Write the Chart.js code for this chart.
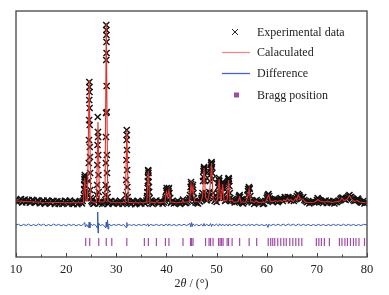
<!DOCTYPE html>
<html><head><meta charset="utf-8">
<script src="https://cdn.jsdelivr.net/npm/chart.js@4.4.0/dist/chart.umd.min.js"></script>
<style>html,body{margin:0;padding:0;background:#fff;}canvas{display:block;}</style>
</head><body>
<canvas id="c" width="389" height="295"></canvas>
<script>
// ---- data (2θ in degrees, intensity in arbitrary units) ----
const xTicks = [10, 20, 30, 40, 50, 60, 70, 80];
const seriesLabels = ["Experimental data", "Calaculated", "Difference", "Bragg position"];

const experimental = [
 [10.0,575],[10.5,555],[11.0,580],[11.5,560],[12.0,548],[12.5,570],[13.0,552],[13.5,565],[14.0,545],[14.5,560],
 [15.0,540],[15.5,565],[16.0,548],[16.5,555],[17.0,538],[17.5,560],[18.0,545],[18.5,532],[19.0,555],[19.5,540],
 [20.0,560],[20.5,535],[21.0,548],[21.5,530],[22.0,552],[22.5,540],[23.0,548],[23.3,560],
 [23.5,590],[23.55,620],[23.6,680],[23.62,720],[23.66,780],[23.68,800],[23.72,820],[23.75,760],[23.78,720],[23.82,660],[23.85,640],[23.95,590],
 [24.4,620],[24.48,760],[24.52,940],[24.56,1170],[24.58,1370],[24.6,1570],[24.62,1750],[24.64,1700],[24.66,1650],
 [24.68,1490],[24.7,1320],[24.72,1100],[24.75,1000],[24.78,840],[24.82,670],[24.9,590],
 [25.2,548],[25.6,535],[26.0,555],
 [26.12,620],[26.18,720],[26.22,920],[26.26,1120],[26.3,1400],[26.34,1250],[26.37,1200],[26.4,1020],[26.44,820],[26.5,650],
 [26.8,548],[27.2,530],[27.6,552],
 [27.82,620],[27.88,720],[27.92,940],[27.95,1200],[27.97,1440],[27.99,1970],[28.0,2320],[28.02,2270],[28.03,2220],
 [28.05,2150],[28.06,2040],[28.08,1710],[28.1,1450],[28.12,1020],[28.15,840],[28.2,680],[28.28,600],
 [28.5,545],[29.0,560],[29.5,538],[30.0,550],[30.5,532],[31.0,548],[31.5,540],
 [31.92,620],[31.98,770],[32.02,970],[32.06,1170],[32.08,1270],[32.1,1220],[32.13,1070],[32.16,870],[32.2,700],[32.28,600],
 [32.6,545],[33.0,530],[33.5,552],[34.0,538],[34.5,548],[35.0,535],[35.5,555],
 [36.1,590],[36.15,610],[36.2,650],[36.25,690],[36.3,760],[36.32,800],[36.36,870],[36.39,860],[36.42,840],[36.46,750],[36.5,700],[36.55,650],[36.65,590],
 [37.0,540],[37.5,548],[38.0,565],[38.5,538],[39.0,550],[39.5,545],
 [39.8,580],[39.85,600],[39.95,660],[40.05,690],[40.1,670],[40.15,640],[40.3,620],[40.42,660],[40.45,680],[40.5,690],[40.6,640],[40.75,590],
 [41.0,552],[41.5,535],[42.0,548],[42.5,540],[43.0,550],[43.3,575],[43.7,540],[44.2,552],
 [44.6,590],[44.7,620],[44.82,700],[44.9,750],[44.95,730],[45.0,700],[45.05,680],[45.1,660],[45.2,700],[45.3,720],[45.4,640],[45.5,590],
 [45.8,545],[46.3,535],[46.7,555],
 [47.0,590],[47.1,610],[47.2,640],[47.3,760],[47.35,800],[47.4,860],[47.45,880],[47.5,900],[47.55,890],[47.6,870],[47.65,820],[47.7,760],[47.85,640],
 [48.0,565],[48.3,590],
 [48.55,650],[48.65,760],[48.7,820],[48.8,850],[48.85,880],[48.9,920],[48.95,940],[49.0,950],[49.05,930],[49.08,900],[49.15,840],[49.2,780],[49.35,640],
 [49.6,560],[50.0,550],
 [50.25,640],[50.35,700],[50.4,740],[50.45,770],[50.5,790],[50.55,760],[50.6,720],[50.75,640],
 [50.95,650],[51.05,690],[51.1,720],[51.15,740],[51.2,750],[51.25,730],[51.3,700],[51.45,620],
 [51.7,560],[52.0,575],
 [52.15,650],[52.25,720],[52.3,760],[52.35,780],[52.4,790],[52.45,780],[52.5,760],[52.55,710],[52.65,640],
 [52.9,560],[53.2,580],[53.6,545],[54.0,550],
 [54.35,580],[54.45,600],[54.5,610],[54.6,620],[54.7,600],[54.85,570],
 [55.1,540],[55.5,550],[55.9,560],
 [56.15,620],[56.25,660],[56.3,680],[56.45,700],[56.55,690],[56.6,680],[56.75,610],
 [57.0,545],[57.5,530],[58.0,570],[58.5,540],[59.0,548],[59.5,535],
 [60.0,590],[60.1,605],[60.2,620],[60.35,630],[60.5,610],[60.7,580],
 [61.0,560],[61.4,575],[61.8,560],[62.2,548],[62.6,570],[63.0,575],[63.4,580],[63.8,590],[64.2,600],[64.6,585],
 [65.0,570],[65.4,560],[65.8,590],[66.0,610],[66.2,630],[66.4,620],[66.7,600],[67.1,590],[67.5,570],[68.0,548],
 [68.5,535],[69.0,550],[69.5,545],[70.0,570],[70.3,580],[70.6,565],[71.0,550],[71.5,560],[72.0,540],[72.5,560],
 [73.0,545],[73.5,535],[74.0,550],[74.5,565],[74.9,590],[75.1,595],[75.5,575],[76.0,585],[76.3,610],[76.5,620],
 [76.7,600],[77.0,585],[77.5,560],[78.0,570],[78.3,575],[78.7,550],[79.0,545],[79.5,535],[80.0,548],
 // intermediate scan points along the background
 [10.25,548],[10.75,570],[11.25,545],[11.75,575],[12.25,560],[12.75,542],[13.25,572],[13.75,548],[14.25,568],[14.75,538],
 [15.25,558],[15.75,532],[16.25,565],[16.75,540],[17.25,562],[17.75,530],[18.25,558],[18.75,548],[19.25,530],[19.75,562],
 [20.25,545],[20.75,565],[21.25,532],[21.75,558],[22.25,528],[22.75,560],[23.15,535],
 [25.05,560],[25.4,532],[25.8,560],[26.65,535],[27.0,558],[27.4,545],[28.4,530],[28.75,555],[29.25,535],[29.75,560],
 [30.25,540],[30.75,562],[31.25,530],[31.75,558],[32.45,560],[32.8,540],[33.25,560],[33.75,528],[34.25,562],[34.75,540],
 [35.25,558],[35.75,532],[36.0,565],[36.8,560],[37.25,530],[37.75,555],[38.25,545],[38.75,560],[39.25,532],[39.7,562],
 [40.9,540],[41.25,560],[41.75,545],[42.25,562],[42.75,530],[43.5,555],[43.95,540],[44.45,565],[45.65,560],[46.05,540],
 [46.5,560],[46.95,575],[47.95,600],[48.15,575],[48.4,610],[49.45,590],[49.8,575],[50.1,590],[50.85,600],[51.55,590],
 [51.85,570],[52.75,590],[53.0,570],[53.4,560],[53.8,560],[54.2,565],[55.0,560],[55.3,535],[55.7,565],[56.0,580],
 [56.9,565],[57.25,560],[57.75,545],[58.25,555],[58.75,560],[59.25,530],[59.75,560],[60.85,570],[61.2,550],[61.6,585],
 [62.0,575],[62.4,560],[62.8,590],[63.2,560],[63.6,600],[64.0,580],[64.4,595],[64.8,565],[65.2,585],[65.6,575],
 [66.55,615],[66.9,580],[67.3,600],[67.75,560],[68.25,555],[68.75,545],[69.25,560],[69.75,550],[70.15,590],[70.45,570],
 [70.8,555],[71.25,540],[71.75,565],[72.25,550],[72.75,545],[73.25,560],[73.75,550],[74.25,560],[74.7,580],[75.3,585],
 [75.75,570],[76.15,595],[76.85,600],[77.25,570],[77.75,565],[78.15,585],[78.5,560],[78.85,545],[79.25,560],[79.75,545]
];

const calculated = [
 [10.0,560],[12.0,555],[15.0,548],[18.0,545],[20.0,543],[23.2,542],
 [23.45,548],[23.7,790],[23.95,560],[24.25,560],[24.6,1770],[24.9,560],
 [25.5,545],[26.05,550],[26.35,1350],[26.65,552],[27.4,548],[27.75,560],[28.0,2340],[28.3,560],
 [29.0,545],[31.0,542],[31.8,548],[32.1,1270],[32.4,548],[33.5,542],[35.5,542],
 [36.1,550],[36.4,860],[36.7,550],[37.8,542],[38.1,560],[38.4,542],
 [39.7,550],[40.0,650],[40.25,600],[40.5,670],[40.8,550],[42.0,542],[43.1,545],[43.3,570],[43.5,545],
 [44.6,555],[44.9,730],[45.1,650],[45.3,710],[45.6,555],[46.8,548],
 [47.2,600],[47.5,890],[47.8,600],[48.2,560],[48.5,620],[48.7,700],[49.0,940],[49.3,580],[49.8,550],
 [50.2,580],[50.5,780],[50.8,570],[50.95,580],[51.2,730],[51.5,560],[52.1,570],[52.4,770],[52.7,560],
 [53.1,570],[53.5,545],[54.3,555],[54.6,600],[54.9,548],[55.8,548],[56.2,600],[56.5,680],[56.8,560],
 [57.5,545],[58.0,560],[58.3,545],[59.8,550],[60.1,590],[60.4,620],[60.7,560],
 [61.3,555],[61.7,565],[62.1,555],[62.8,565],[63.1,552],[63.4,570],[63.8,560],[64.1,585],[64.5,565],[64.8,575],
 [65.3,555],[65.8,590],[66.0,575],[66.3,620],[66.7,580],[67.2,580],[67.6,555],[68.0,545],
 [69.5,548],[69.9,560],[70.2,575],[70.6,560],[71.2,550],[72.4,555],[73.0,545],
 [74.6,560],[75.0,590],[75.4,565],[76.0,575],[76.5,615],[76.9,580],[77.5,555],[78.1,565],[78.5,550],[80.0,540]
];

const difference = [
 [10.0,0],[10.5,8],[11.0,-9],[11.5,6],[12.0,-5],[12.5,9],[13.0,-8],[13.5,5],[14.0,-7],[14.5,10],
 [15.0,-4],[15.5,8],[16.0,-9],[16.5,5],[17.0,-7],[17.5,9],[18.0,-5],[18.5,7],[19.0,-8],[19.5,4],
 [20.0,-9],[20.5,8],[21.0,-5],[21.5,7],[22.0,-8],[22.5,5],[23.0,-7],[23.5,9],[23.7,25],[23.85,-20],
 [24.1,5],[24.45,-25],[24.6,30],[24.72,-30],[24.85,15],[25.2,-5],[25.6,6],[26.0,-8],[26.2,-30],[26.3,130],
 [26.36,-80],[26.45,20],[26.8,-6],[27.2,5],[27.6,-7],[27.9,-30],[28.0,30],[28.1,-20],[28.25,50],[28.35,-40],
 [28.5,10],[29.0,-6],[29.5,5],[30.0,-4],[30.5,7],[31.0,-6],[31.5,5],[31.95,-25],[32.1,25],[32.2,-10],
 [32.6,6],[33.0,-5],[33.5,5],[34.0,-7],[34.5,6],[35.0,-5],[35.5,7],[36.0,-6],[36.3,12],[36.45,-14],
 [36.8,6],[37.5,-5],[38.0,7],[38.5,-6],[39.0,5],[39.5,-7],[40.0,9],[40.3,-8],[40.5,9],[41.0,-6],
 [41.5,5],[42.0,-7],[42.5,6],[43.0,-5],[43.5,7],[44.0,-6],[44.7,15],[44.85,-20],[45.0,25],[45.15,-15],
 [45.3,12],[45.6,-6],[46.0,6],[46.5,-8],[47.0,7],[47.3,-12],[47.5,15],[47.7,-10],[48.0,8],[48.5,-9],
 [48.8,14],[49.0,-15],[49.2,10],[49.5,-7],[50.0,8],[50.4,-10],[50.6,12],[51.0,-9],[51.2,10],[51.5,-7],
 [52.0,7],[52.3,-10],[52.5,9],[53.0,-6],[53.5,7],[54.0,-5],[54.5,8],[55.0,-6],[55.5,5],[56.0,-7],
 [56.4,9],[56.6,-7],[57.0,6],[57.5,-5],[58.0,7],[58.5,-6],[59.0,5],[59.5,-7],[60.0,6],[60.25,-25],
 [60.4,7],[60.8,-6],[61.3,7],[61.8,-5],[62.3,8],[62.8,-6],[63.3,9],[63.8,-7],[64.3,10],[64.8,-5],
 [65.3,8],[65.8,-7],[66.3,9],[66.8,-6],[67.3,7],[67.8,-5],[68.3,6],[68.8,-7],[69.3,5],[69.8,-6],
 [70.3,7],[70.8,-5],[71.3,6],[71.8,-7],[72.3,5],[72.8,-6],[73.3,7],[73.8,-5],[74.3,6],[74.8,-7],
 [75.3,8],[75.8,-6],[76.3,7],[76.8,-5],[77.3,6],[77.8,-7],[78.3,5],[78.8,-6],[79.3,7],[80.0,0]
];

const braggPositions = [
 23.9, 24.7, 26.5, 28.0, 29.1, 32.1, 35.6, 36.4, 38.0, 39.8, 40.5, 43.3, 44.8, 45.0, 45.3,
 47.8, 48.5, 48.8, 49.3, 50.4, 50.7, 51.0, 51.3, 52.1, 52.4, 53.1, 54.6, 56.5, 58.0,
 60.3, 60.8, 61.2, 61.6, 62.2, 62.8, 63.4, 63.9, 64.6, 65.2, 65.8, 66.4, 67.0,
 69.9, 70.4, 70.9, 71.5, 72.5, 74.5, 75.0, 75.6, 76.1, 76.7, 77.3, 77.8, 78.4, 79.5
];

// layout constants (display only)
const DIFF_OFFSET = 320;
const BRAGG_LEVEL = 150;

const toXY = a => a.map(p => ({x: p[0], y: p[1]}));

const serif = '"Liberation Serif", "Times New Roman", serif';

const frameAndLegend = {
  id: 'frameAndLegend',
  afterDraw(chart) {
    const ctx = chart.ctx, a = chart.chartArea, xs = chart.scales.x;
    ctx.save();
    ctx.strokeStyle = '#444'; ctx.lineWidth = 1.3;
    ctx.strokeRect(a.left, a.top, a.right - a.left, a.bottom - a.top);
    ctx.lineWidth = 1;
    for (let v = 10; v <= 80; v += 5) {
      const px = Math.round(xs.getPixelForValue(v)) + 0.5;
      const len = (v % 10 === 0) ? 4 : 2.5;
      ctx.beginPath(); ctx.moveTo(px, a.bottom); ctx.lineTo(px, a.bottom - len); ctx.stroke();
    }
    ctx.fillStyle = '#222'; ctx.textBaseline = 'alphabetic';
    const parts = [['2', 'normal'], ['θ', 'italic'], [' / (°)', 'normal']];
    let total = 0;
    parts.forEach(p => { ctx.font = p[1] + ' 12px ' + serif; total += ctx.measureText(p[0]).width; });
    let tx = (a.left + a.right) / 2 - total / 2;
    const ty = 287;
    parts.forEach(p => { ctx.font = p[1] + ' 12px ' + serif; ctx.fillText(p[0], tx, ty); tx += ctx.measureText(p[0]).width; });
    const lx = 222, textX = 257, rows = [32, 52, 73, 95];
    ctx.font = '12px ' + serif; ctx.textBaseline = 'middle'; ctx.fillStyle = '#222';
    ctx.strokeStyle = '#222'; ctx.lineWidth = 1;
    ctx.beginPath(); ctx.moveTo(232, rows[0] - 3); ctx.lineTo(238, rows[0] + 3);
    ctx.moveTo(238, rows[0] - 3); ctx.lineTo(232, rows[0] + 3); ctx.stroke();
    ctx.strokeStyle = '#f08a8a'; ctx.lineWidth = 1.3;
    ctx.beginPath(); ctx.moveTo(lx, rows[1] + 0.5); ctx.lineTo(250, rows[1] + 0.5); ctx.stroke();
    ctx.strokeStyle = '#4a64c0';
    ctx.beginPath(); ctx.moveTo(lx, rows[2] + 0.5); ctx.lineTo(250, rows[2] + 0.5); ctx.stroke();
    ctx.fillStyle = '#a24aa8'; ctx.fillRect(234, rows[3] - 2.5, 5, 5);
    ctx.fillStyle = '#222';
    seriesLabels.forEach((t, i) => ctx.fillText(t, textX, rows[i] + 1));
    ctx.restore();
  }
};

new Chart(document.getElementById('c'), {
  type: 'scatter',
  data: {
    datasets: [
      { label: seriesLabels[1], data: toXY(calculated), showLine: true, borderColor: '#e2312c',
        borderWidth: 1.1, pointRadius: 0, order: 0 },
      { label: seriesLabels[0], data: toXY(experimental), showLine: false, pointStyle: 'crossRot',
        pointRadius: 4.3, borderColor: '#121212', borderWidth: 1.45, backgroundColor: '#121212', order: 1 },
      { label: seriesLabels[2], data: difference.map(p => ({x: p[0], y: p[1] + DIFF_OFFSET})), showLine: true,
        borderColor: '#3558b0', borderWidth: 1, pointRadius: 0, order: 2 },
      { label: seriesLabels[3], data: braggPositions.map(v => ({x: v, y: BRAGG_LEVEL})), showLine: false,
        pointStyle: 'line', rotation: 90, pointRadius: 4, borderColor: '#a24aa8', borderWidth: 1.2, order: 3 }
    ]
  },
  options: {
    responsive: false, animation: false, devicePixelRatio: 1,
    layout: { padding: { left: 16, right: 22, top: 11, bottom: 0 } },
    plugins: { legend: { display: false }, tooltip: { enabled: false } },
    scales: {
      x: { type: 'linear', min: 10, max: 80,
        afterBuildTicks: s => { s.ticks = xTicks.map(v => ({value: v})); },
        afterFit: s => { s.height = 38; },
        grid: { display: false, drawTicks: false }, border: { display: false },
        ticks: { padding: 5, color: '#222', font: { family: serif, size: 12.5 }, maxRotation: 0 } },
      y: { display: false, min: 0, max: 2460 }
    }
  },
  plugins: [frameAndLegend]
});
</script>
</body></html>
